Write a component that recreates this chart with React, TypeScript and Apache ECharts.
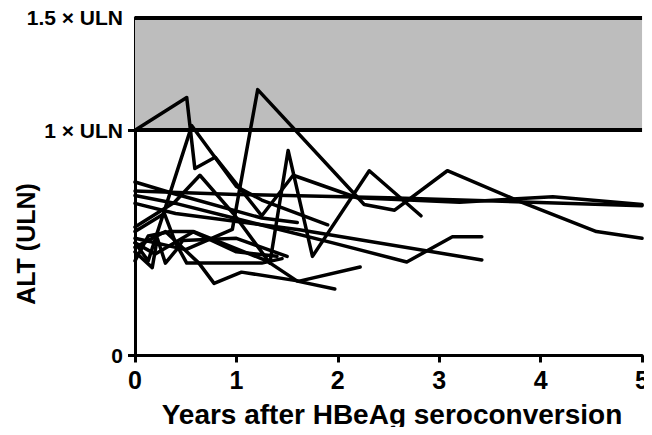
import React, { useEffect, useRef } from "react";
import * as echarts from "echarts";

// Tick labels
const xTicks = [0, 1, 2, 3, 4, 5];
const yTickValues = [0, 1, 1.5];
const yTickLabels = ["0", "1 × ULN", "1.5 × ULN"];

// Reference band (ULN range)
const bandLow = 1;
const bandHigh = 1.5;

// Patient trajectories: [years after seroconversion, ALT (×ULN)]
const p1 = [[0, 1.0], [0.51, 1.145], [0.59, 0.83], [0.79, 0.88], [1.25, 0.62], [1.56, 0.8], [2.19, 0.7], [3.2, 0.68], [4.12, 0.705], [5.0, 0.67]];
const p2 = [[0, 0.52], [0.5, 0.47], [0.96, 0.56], [1.21, 1.18], [2.26, 0.67], [2.56, 0.645], [3.08, 0.82], [3.76, 0.69], [4.55, 0.55], [5.0, 0.52]];
const p3 = [[0, 0.5], [0.13, 0.42], [0.56, 1.02], [1.0, 0.75], [1.25, 0.69], [1.9, 0.58]];
const p4 = [[0, 0.73], [1.0, 0.715], [2.5, 0.7], [5.0, 0.665]];
const p5 = [[0, 0.57], [0.39, 0.68], [0.64, 0.8], [0.97, 0.63], [1.33, 0.41], [1.51, 0.91], [1.75, 0.44], [2.31, 0.82], [2.82, 0.62]];
const p6 = [[0, 0.77], [0.37, 0.72], [1.25, 0.61], [1.6, 0.59]];
const p7 = [[0, 0.71], [0.39, 0.676], [1.95, 0.5], [2.68, 0.415], [3.13, 0.527], [3.42, 0.527]];
const p8 = [[0, 0.675], [0.4, 0.63], [1.62, 0.558], [3.42, 0.424]];
const p9 = [[0, 0.55], [0.29, 0.63], [0.4, 0.5], [0.51, 0.41], [1.25, 0.41], [1.45, 0.43]];
const p10 = [[0, 0.48], [0.3, 0.55], [0.63, 0.41], [0.78, 0.32], [1.05, 0.37], [1.62, 0.33], [2.22, 0.393]];
const p11 = [[0, 0.5], [0.2, 0.45], [0.58, 0.55], [1.3, 0.42], [1.6, 0.33], [1.97, 0.295]];
const p12 = [[0, 0.46], [0.17, 0.39], [0.22, 0.52], [0.3, 0.41], [0.41, 0.47], [0.47, 0.51], [1.0, 0.52], [1.5, 0.44]];
const p13 = [[0, 0.42], [0.13, 0.53], [0.35, 0.55], [0.57, 0.55], [1.0, 0.46], [1.4, 0.44]];

const patients = [p1, p2, p3, p4, p5, p6, p7, p8, p9, p10, p11, p12, p13];

const FONT = "Liberation Sans, Arial, sans-serif";

export default function App() {
  const ref = useRef<HTMLDivElement>(null);
  useEffect(() => {
    if (!ref.current) return;
    const chart = echarts.init(ref.current, null, { renderer: "svg" });
    const lineSeries = patients.map((d, i) => ({
      type: "line",
      name: "Patient " + (i + 1),
      data: d,
      symbol: "none",
      z: 3,
      lineStyle: { color: "#000", width: 3.5, cap: "round", join: "round" },
    }));
    chart.setOption({
      animation: false,
      backgroundColor: "#fff",
      grid: { left: 135, right: 9, top: 17.5, bottom: 79.5, containLabel: false },
      xAxis: {
        type: "value",
        min: 0,
        max: 5,
        interval: 1,
        data: xTicks,
        axisLine: { show: true, onZero: false, lineStyle: { color: "#000", width: 3 } },
        axisTick: { show: true, length: 7, lineStyle: { color: "#000", width: 3 } },
        axisLabel: { color: "#000", fontFamily: FONT, fontWeight: "bold", fontSize: 25, margin: 12 },
        splitLine: { show: false },
      },
      yAxis: {
        type: "value",
        min: 0,
        max: 1.5,
        axisLine: { show: true, lineStyle: { color: "#000", width: 3 } },
        axisTick: { show: true, length: 7, customValues: [0, 1], lineStyle: { color: "#000", width: 3 } },
        axisLabel: {
          color: "#000",
          fontFamily: FONT,
          fontWeight: "bold",
          fontSize: 21,
          margin: 12,
          customValues: yTickValues,
          formatter: (v: number) => yTickLabels[yTickValues.indexOf(v)] ?? "",
        },
        splitLine: { show: false },
      },
      graphic: [
        {
          type: "text",
          x: 26,
          y: 244,
          rotation: Math.PI / 2,
          style: {
            text: "ALT (ULN)",
            fontFamily: FONT,
            fontWeight: "bold",
            fontSize: 25,
            fill: "#000",
            align: "center",
            verticalAlign: "middle",
          },
        },
        {
          type: "text",
          x: 392,
          y: 414,
          style: {
            text: "Years after HBeAg seroconversion",
            fontFamily: FONT,
            fontWeight: "bold",
            fontSize: 28,
            fill: "#000",
            align: "center",
            verticalAlign: "middle",
          },
        },
      ],
      series: [
        {
          type: "line",
          name: "band",
          data: [],
          z: 1,
          markArea: {
            silent: true,
            itemStyle: { color: "#bdbdbd" },
            data: [[{ yAxis: bandLow }, { yAxis: bandHigh }]],
          },
          markLine: {
            silent: true,
            symbol: "none",
            label: { show: false },
            lineStyle: { color: "#000", width: 4, type: "solid" },
            data: [{ yAxis: bandLow }, { yAxis: bandHigh }],
          },
        },
        ...lineSeries,
      ],
    });
    return () => chart.dispose();
  }, []);
  return <div ref={ref} style={{ width: 652, height: 435, margin: -8 }} />;
}
